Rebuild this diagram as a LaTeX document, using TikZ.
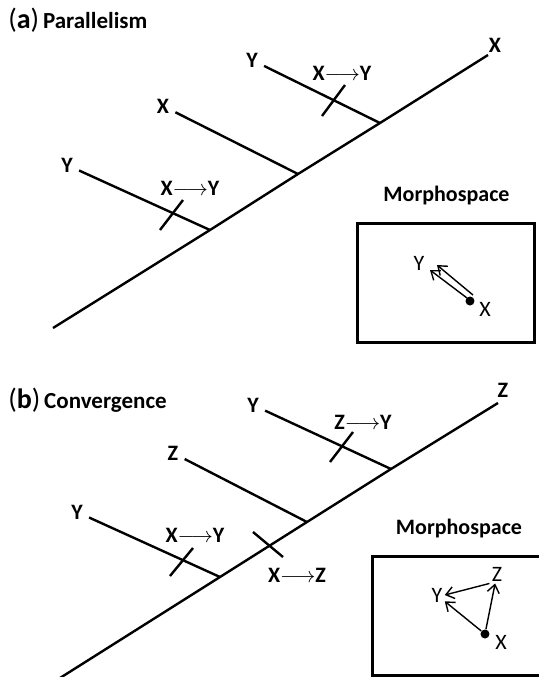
\documentclass[tikz,border=0pt]{standalone}
\usepackage{fontspec}
\setmainfont{Carlito}
\usetikzlibrary{arrows.meta,positioning}

\begin{document}
\begin{tikzpicture}[x=0.5pt,y=-0.5pt,
    trait/.style={line width=1.2pt},
    lettre/.style={font=\bfseries\fontsize{11}{12}\selectfont, inner sep=3pt},
    etiquette/.style={font=\bfseries\fontsize{11}{12}\selectfont, inner sep=0pt},
    titre/.style={font=\bfseries\fontsize{11.5}{13}\selectfont, anchor=west, inner sep=0pt},
    boite/.style={draw, line width=1.5pt, inner sep=0pt},
    fleche/.style={-{Straight Barb[length=4pt,width=6pt]}, line width=0.7pt},
    point/.style={circle, fill, inner sep=0pt, minimum size=4.5pt},
    lettreb/.style={font=\fontsize{11}{12}\selectfont, inner sep=1pt}]
  \useasboundingbox (0,0) rectangle (539,677);

  % (a) Parallélisme
  \node[titre] (titrea) at (8,20) {{\mdseries\fontsize{14}{14}\selectfont(\textbf{a})}\,Parallelism};

  % Tronc
  \coordinate (a0) at (53,328);
  \coordinate (a1) at (210,230);
  \coordinate (a2) at (298,174);
  \coordinate (a3) at (380,123);
  \coordinate (a4) at (488,55);
  \node[lettre] (xa4) at (495,45) {X};
  \draw[trait] (a0) -- (a1) -- (a2) -- (a3) -- (a4);

  % Branches
  \node[lettre] (ya3) at (252,60) {Y};
  \node[lettre] (xa2) at (163,106) {X};
  \node[lettre] (ya1) at (67,165) {Y};
  \draw[trait] (ya3) -- (a3);
  \draw[trait] (xa2) -- (a2);
  \draw[trait] (ya1) -- (a1);

  % Transitions
  \draw[trait] (322,116) -- (345,85);
  \draw[trait] (160,230) -- (183,200);
  \node[etiquette] (ta3) at (342,73) {X$\longrightarrow$Y};
  \node[etiquette] (ta1) at (190,188) {X$\longrightarrow$Y};

  % Morphospace
  \node[boite, minimum width=88.5pt, minimum height=59.5pt] (ba) at (446.5,282.5) {};
  \node[etiquette, above=8pt of ba] (ma) {Morphospace};
  \node[point] (pa) at (470,301) {};
  \node[lettreb] (xpa) at (485,309) {X};
  \node[lettreb] (ypa) at (419,263) {Y};
  \coordinate (da1) at (467,298);
  \coordinate (da2) at (473,295);
  \coordinate (fa1) at (430,270);
  \coordinate (fa2) at (437,265);
  \draw[fleche] (da1) -- (fa1);
  \draw[fleche] (da2) -- (fa2);

  % (b) Convergence
  \node[titre] (titreb) at (8,400) {{\mdseries\fontsize{14}{14}\selectfont(\textbf{b})}\,Convergence};

  % Tronc
  \coordinate (b0) at (60,678);
  \coordinate (b1) at (220,577);
  \coordinate (b2) at (307,522);
  \coordinate (b3) at (391,469);
  \coordinate (b4) at (498,403);
  \node[lettre] (zb4) at (503,390) {Z};
  \draw[trait] (b0) -- (b1) -- (b2) -- (b3) -- (b4);

  % Branches
  \node[lettre] (yb3) at (253,405) {Y};
  \node[lettre] (zb2) at (173,453) {Z};
  \node[lettre] (yb1) at (77,512) {Y};
  \draw[trait] (yb3) -- (b3);
  \draw[trait] (zb2) -- (b2);
  \draw[trait] (yb1) -- (b1);

  % Transitions
  \draw[trait] (330,462) -- (353,432);
  \draw[trait] (170,576) -- (193,548);
  \draw[trait] (253,532) -- (283,557);
  \node[etiquette] (tb3) at (363,422) {Z$\longrightarrow$Y};
  \node[etiquette] (tb1) at (195,535) {X$\longrightarrow$Y};
  \node[etiquette] (tb0) at (297,575) {X$\longrightarrow$Z};

  % Morphospace
  \node[boite, minimum width=86pt, minimum height=59.5pt] (bb) at (459,615.5) {};
  \node[etiquette, above=8pt of bb] (mb) {Morphospace};
  \node[point] (pb) at (485,634) {};
  \node[lettreb] (xpb) at (501,642) {X};
  \node[lettreb] (ypb) at (437,595) {Y};
  \node[lettreb] (zpb) at (497,574) {Z};
  \draw[fleche] (pb) -- (ypb);
  \draw[fleche] (pb) -- (zpb);
  \draw[fleche] (zpb.south west) -- (ypb.east);
\end{tikzpicture}
\end{document}
